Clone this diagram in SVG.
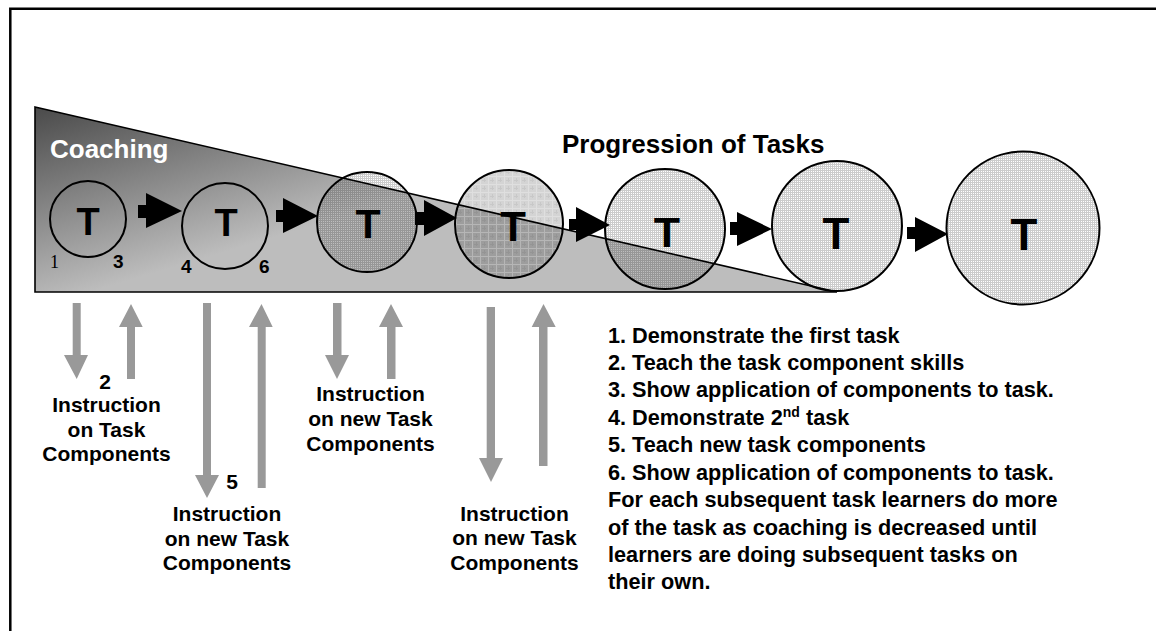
<svg xmlns="http://www.w3.org/2000/svg" width="1156" height="631" viewBox="0 0 1156 631">
<style>
.t{font-family:"Liberation Sans",Arial,sans-serif;font-weight:bold;fill:#000}
.big{font-size:26px}
.T{font-size:40px;text-anchor:middle}
.num{font-size:19px}
.lab{font-size:21px;text-anchor:middle}
.list{font-size:21.7px}
.circ{stroke:#000;stroke-width:2}
.ga{fill:#999}
.ba{fill:#000}
</style>
<defs>
<linearGradient id="coach" gradientUnits="userSpaceOnUse" x1="35" y1="107" x2="90" y2="292">
<stop offset="0" stop-color="#4a4a4a"/>
<stop offset="1" stop-color="#bdbdbd"/>
</linearGradient>
<pattern id="fine" width="2" height="2" patternUnits="userSpaceOnUse">
<path d="M0 0H2V1H1V2H0Z" fill="#000" fill-opacity="0.2"/>
</pattern>
<pattern id="coarse" width="8" height="8" patternUnits="userSpaceOnUse">
<rect width="8" height="8" fill="#000" fill-opacity="0.17"/>
<path d="M0 0H8V1H1V8H0Z" fill="#fff" fill-opacity="0.25"/>
<path d="M4 2H5V6H4ZM2 4H4V5H2ZM5 4H6V5H5Z" fill="#000" fill-opacity="0.06"/>
</pattern>
</defs>
<path d="M10.3 631V8.7H1156" fill="none" stroke="#000" stroke-width="2.5"/>
<g id="coaching">
<polygon points="35,107 837,292 35,292" fill="url(#coach)"/>
<text class="t big" x="50" y="158" style="fill:#fff">Coaching</text>
</g>
<text id="title" class="t big" x="562" y="153">Progression of Tasks</text>
<g id="task1"><circle class="circ" cx="88" cy="219" r="38" fill="none"/><text class="t T" x="88" y="235" style="font-size:38px">T</text></g>
<g id="task2"><circle class="circ" cx="225" cy="226" r="43" fill="none"/><text class="t T" x="226" y="236" style="font-size:38px">T</text></g>
<g id="task3"><circle class="circ" cx="367" cy="222" r="50" fill="url(#fine)"/><text class="t T" x="368" y="238" style="font-size:41px">T</text></g>
<g id="task4"><circle class="circ" cx="509" cy="224" r="54" fill="url(#coarse)"/><text class="t T" x="513" y="241" style="font-size:42px">T</text></g>
<g id="task5"><circle class="circ" cx="665" cy="229" r="60" fill="url(#fine)"/><text class="t T" x="667" y="247" style="font-size:43px">T</text></g>
<g id="task6"><circle class="circ" cx="837" cy="226" r="65" fill="url(#fine)"/><text class="t T" x="836" y="249" style="font-size:44px">T</text></g>
<g id="task7"><circle class="circ" cx="1023" cy="228" r="76.5" fill="url(#fine)"/><text class="t T" x="1024" y="250" style="font-size:44px">T</text></g>
<polygon points="35,107 837,292 35,292" fill="none" stroke="#000" stroke-width="1.6"/>
<g id="numbers">
<text x="50" y="268" style="font-family:'Liberation Serif','Times New Roman',serif;font-size:18px;fill:#000">1</text>
<text class="t num" x="113" y="268">3</text>
<text class="t num" x="181" y="273">4</text>
<text class="t num" x="259" y="273">6</text>
</g>
<g id="connectors">
<polygon class="ba" points="138,205 146,205 146,193 182,211 146,228 146,218 138,218"/>
<polygon class="ba" points="276,210 283,210 283,198 318,216 283,233 283,222 276,222"/>
<polygon class="ba" points="415,212 424,212 424,200 457,218 424,236 424,225 415,225"/>
<polygon class="ba" points="569,219 576,219 576,207 610,225 576,242 576,230 569,230"/>
<polygon class="ba" points="730,222 737,222 737,212 772,229 737,246 737,235 730,235"/>
<polygon class="ba" points="907,227 915,227 915,217 948,234 915,252 915,239 907,239"/>
<polygon class="ga" points="72.7,303 80.7,303 80.7,355 88,355 76.7,379 64,355 72.7,355"/>
<polygon class="ga" points="127,379 135,379 135,327 142.7,327 131,304 119,327 127,327"/>
<polygon class="ga" points="203,303 211,303 211,475 219,475 207,498 195,475 203,475"/>
<polygon class="ga" points="257.7,488 265.7,488 265.7,327 272.7,327 261.5,304 249,327 257.7,327"/>
<polygon class="ga" points="333,303 341.5,303 341.5,355 349,355 337,379 325,355 333,355"/>
<polygon class="ga" points="387,379 395.5,379 395.5,327 403,327 391,304 379,327 387,327"/>
<polygon class="ga" points="486.7,307 495,307 495,458 503,458 491,482 479,458 486.7,458"/>
<polygon class="ga" points="539,466 547.5,466 547.5,327 555.7,327 543.5,304 531.7,327 539,327"/>
</g>
<g id="label1">
<text class="t lab" x="105" y="389">2</text>
<text class="t lab" x="106.5" y="412">Instruction</text>
<text class="t lab" x="106.5" y="437">on Task</text>
<text class="t lab" x="106.5" y="461">Components</text>
</g>
<g id="label2">
<text class="t lab" x="232" y="489">5</text>
<text class="t lab" x="227" y="521">Instruction</text>
<text class="t lab" x="227" y="546">on new Task</text>
<text class="t lab" x="227" y="570">Components</text>
</g>
<g id="label3">
<text class="t lab" x="370.5" y="401">Instruction</text>
<text class="t lab" x="370.5" y="426">on new Task</text>
<text class="t lab" x="370.5" y="451">Components</text>
</g>
<g id="label4">
<text class="t lab" x="514.5" y="521">Instruction</text>
<text class="t lab" x="514.5" y="545">on new Task</text>
<text class="t lab" x="514.5" y="570">Components</text>
</g>
<g id="steps">
<text class="t list" x="608" y="343">1. Demonstrate the first task</text>
<text class="t list" x="608" y="370">2. Teach the task component skills</text>
<text class="t list" x="608" y="397">3. Show application of components to task.</text>
<text class="t list" x="608" y="425">4. Demonstrate 2<tspan dy="-8" style="font-size:14px">nd</tspan><tspan dy="8"> task</tspan></text>
<text class="t list" x="608" y="452">5. Teach new task components</text>
<text class="t list" x="608" y="480">6.  Show application of components to task.</text>
<text class="t list" x="608" y="507">For each subsequent task learners do more</text>
<text class="t list" x="608" y="535">of the task as coaching is decreased until</text>
<text class="t list" x="608" y="562">learners are doing subsequent tasks on</text>
<text class="t list" x="608" y="589">their own.</text>
</g>
</svg>
